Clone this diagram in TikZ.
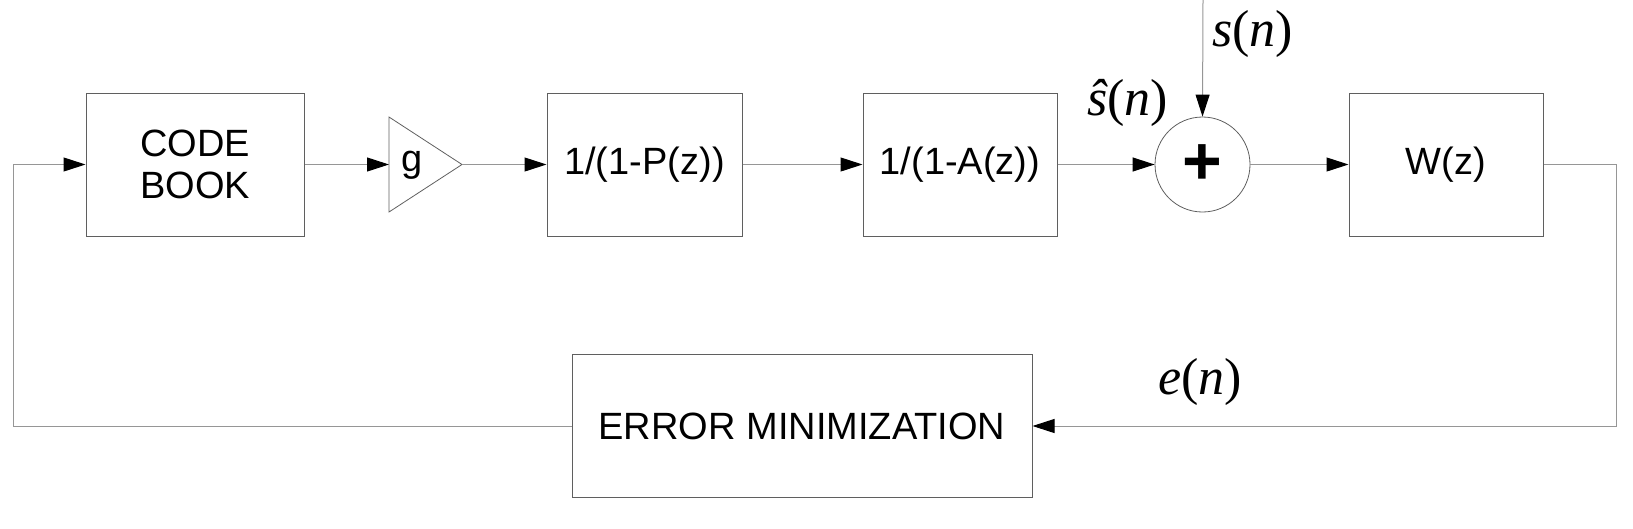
\documentclass[tikz,border=0pt]{standalone}
\usepackage{fontspec}
\setmainfont{Liberation Sans}
\newfontfamily\tms{Liberation Serif}
\usetikzlibrary{arrows.meta}
\definecolor{boxc}{RGB}{95,95,95}
\definecolor{linec}{RGB}{150,150,150}
\tikzset{
  blk/.style={draw=boxc, line width=1pt, rectangle, minimum height=143pt, inner sep=0pt, align=center, font=\fontsize{38}{42}\selectfont},
  conn/.style={draw=linec, line width=1pt, -{Triangle[length=22pt,width=14pt,color=black]}},
  sig/.style={inner sep=0pt, anchor=base, font=\tms\fontsize{52}{60}\selectfont}
}
\begin{document}
\begin{tikzpicture}[x=1pt,y=-1pt]
\useasboundingbox (0,0) rectangle (1633,528);
% blocks
\node[blk, minimum width=218pt] (cb) at (195,164.5) {CODE\\BOOK};
\node[blk, minimum width=195pt] (pz) at (644.5,164.5) {1/(1-P(z))};
\node[blk, minimum width=194pt] (az) at (960,164.5) {1/(1-A(z))};
\node[blk, minimum width=194pt] (wz) at (1446,164.5) {W(z)};
\node[blk, minimum width=460pt] (err) at (802,426) {ERROR MINIMIZATION};
\node[draw=boxc, line width=0.8pt, circle, minimum size=95pt, inner sep=0pt] (sum) at (1202.5,164.5) {};
\node[inner sep=0pt, font=\bfseries\fontsize{68}{70}\selectfont] (plus) at (1202.5,164.5) {+};
% gain triangle
\draw[draw=boxc, line width=0.8pt] (389,117) -- (462,164.5) -- (389,212) -- cycle;
\coordinate (triw) at (389,164.5);
\coordinate (trie) at (462,164.5);
\node[inner sep=0pt, anchor=base, font=\fontsize{38}{42}\selectfont] (g) at (412,171) {g};
% feedback corners
\coordinate (tl) at (13,164.5);
\coordinate (bl) at (13,426);
\coordinate (tr) at (1616,164.5);
\coordinate (br) at (1616,426);
\coordinate (stop) at (1203,0);
% connectors
\draw[conn] (cb.east) -- (triw);
\draw[conn] (trie) -- (pz.west);
\draw[conn] (pz.east) -- (az.west);
\draw[conn] (az.east) -- (sum.west);
\draw[conn] (sum.east) -- (wz.west);
\draw[conn] (stop) -- (sum.north);
\draw[conn] (wz.east) -- (tr) -- (br) -- (err.east);
\draw[conn] (err.west) -- (bl) -- (tl) -- (cb.west);
% labels
\node[sig] (sl) at (1252.5,46) {\itshape s\upshape(\itshape n\upshape)};
\node[sig] (shl) at (1127.5,115) {\itshape ŝ\upshape(\itshape n\upshape)};
\node[sig] (el) at (1200,394) {\itshape e\upshape(\itshape n\upshape)};
\end{tikzpicture}
\end{document}
